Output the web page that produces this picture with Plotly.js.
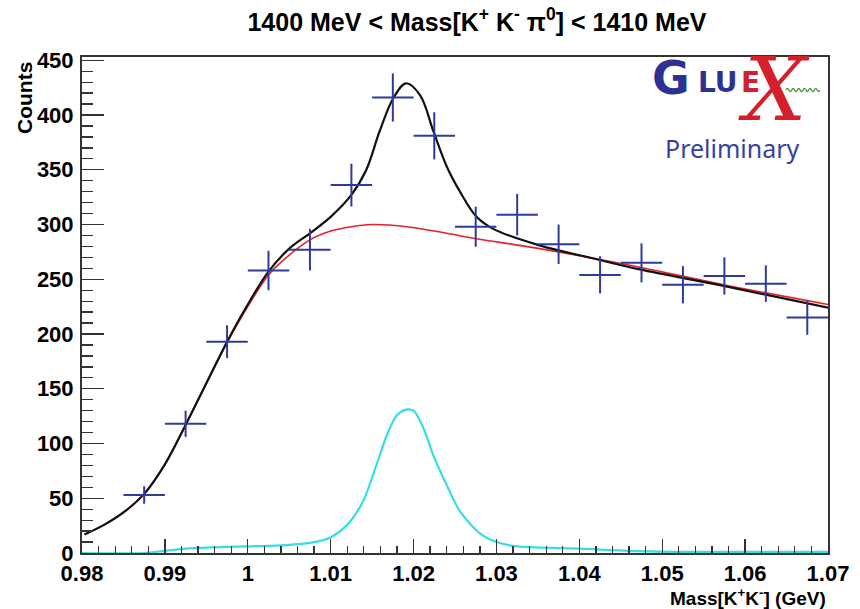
<!DOCTYPE html>
<html>
<head>
<meta charset="utf-8">
<script src="https://cdn.plot.ly/plotly-3.0.1.min.js"></script>
<style>
  html, body { margin: 0; padding: 0; background: #fff; }
  #chart { width: 860px; height: 609px; }
</style>
</head>
<body>
<div id="chart"></div>
<script>
// ---- Data ----
const binCenters = [0.9875, 0.9925, 0.9975, 1.0025, 1.0075, 1.0125, 1.0175, 1.0225, 1.0275,
                    1.0325, 1.0375, 1.0425, 1.0475, 1.0525, 1.0575, 1.0625, 1.0675];
const counts     = [53, 118, 193, 258, 277, 336, 416, 381, 298,
                    309, 282, 254, 265, 245, 253, 246, 215];
const countErrs  = [8, 12, 15, 18, 19, 19.5, 22, 21.5, 18.3,
                    19, 18, 17, 17.8, 17, 17, 16.7, 15.7];
const binHalfWidth = 0.0025;

// total fit (black)
const totalX = [0.9803, 0.9825, 0.9850, 0.9875, 0.9900, 0.9925, 0.9950, 0.9975, 1.0000, 1.0025,
                1.0050, 1.0075, 1.0100, 1.0125, 1.0143, 1.0159, 1.0176, 1.0191, 1.0208, 1.0224,
                1.0240, 1.0256, 1.0276, 1.0296, 1.0352, 1.0417, 1.0473, 1.0574, 1.0700];
const totalY = [17, 25, 37, 54, 81, 117, 155, 193, 227, 257,
                278, 292, 307, 327, 350, 385, 416, 429, 418, 385,
                353, 330, 307, 296, 281, 269, 259, 244, 224];

// background (red)
const bkgX = [0.9803, 0.9825, 0.9850, 0.9875, 0.9900, 0.9925, 0.9950, 0.9975, 1.0000, 1.0025,
              1.0050, 1.0075, 1.0100, 1.0125, 1.0150, 1.0192, 1.0240, 1.0276, 1.0352, 1.0473,
              1.0574, 1.0700];
const bkgY = [17, 25, 37, 54, 81, 117, 155, 192, 225, 254,
              272, 286, 294, 298, 300, 298, 292, 287, 278, 261,
              245, 227];

// signal (cyan)
const sigX = [0.9800, 0.9875, 0.9900, 0.9925, 0.9950, 1.0000, 1.0050, 1.0080, 1.0099, 1.0119,
              1.0139, 1.0155, 1.0168, 1.0180, 1.0191, 1.0200, 1.0212, 1.0224, 1.0240, 1.0256,
              1.0280, 1.0300, 1.0325, 1.0352, 1.0400, 1.0460, 1.0540, 1.0700];
const sigY = [0, 0, 2, 4, 5, 6, 7.5, 10, 14, 25,
              47, 80, 108, 126, 131, 130, 114, 89, 62, 38,
              18, 10, 6, 5, 4, 2, 1, 1];

const titleText = '1400 MeV < Mass[K<sup>+</sup> K<sup>-</sup> π<sup>0</sup>] < 1410 MeV';
const xTitleText = 'Mass[K<sup>+</sup>K<sup>-</sup>] (GeV)';
const yTitleText = 'Counts';

// ---- Plot ----
const FONT = 'Liberation Sans, Arial, Helvetica, sans-serif';
const traces = [
  {
    x: sigX, y: sigY, type: 'scatter', mode: 'lines',
    line: {color: '#35dde6', width: 2.2, shape: 'spline', smoothing: 0.8},
    cliponaxis: false, hoverinfo: 'skip'
  },
  {
    x: bkgX, y: bkgY, type: 'scatter', mode: 'lines',
    line: {color: '#e2222c', width: 1.6, shape: 'spline', smoothing: 1},
    hoverinfo: 'skip'
  },
  {
    x: totalX, y: totalY, type: 'scatter', mode: 'lines',
    line: {color: '#111111', width: 2.2, shape: 'spline', smoothing: 1},
    hoverinfo: 'skip'
  },
  {
    x: binCenters, y: counts, type: 'scatter', mode: 'markers',
    marker: {size: 1, color: '#2e3b9c'},
    error_y: {type: 'data', array: countErrs, visible: true, color: '#2e3b9c', thickness: 2, width: 0},
    error_x: {type: 'constant', value: binHalfWidth, visible: true, color: '#2e3b9c', thickness: 2, width: 0}
  }
];

// green wavy line for the logo
function wavePath(x0, x1, yc, amp, n) {
  const px = v => (v - 82) / 746;
  const py = v => (553 - v) / 496;
  let d = 'M ' + px(x0) + ',' + py(yc);
  const step = (x1 - x0) / (2 * n);
  for (let i = 0; i < 2 * n; i++) {
    const xa = x0 + step * (i + 0.5);
    const xb = x0 + step * (i + 1);
    const ya = yc + (i % 2 === 0 ? -amp : amp) * 2;
    d += ' Q ' + px(xa) + ',' + py(ya) + ' ' + px(xb) + ',' + py(yc);
  }
  return d;
}

const layout = {
  width: 860, height: 609,
  margin: {l: 82, r: 32, t: 57, b: 56, pad: 0},
  paper_bgcolor: '#ffffff', plot_bgcolor: '#ffffff',
  showlegend: false,
  title: {
    text: titleText, x: 477 / 860, xanchor: 'center', xref: 'container',
    y: 1 - 22 / 609, yanchor: 'middle', yref: 'container',
    font: {family: FONT, size: 25, color: '#000', weight: 'bold'}
  },
  xaxis: {
    range: [0.98, 1.07], dtick: 0.01, tick0: 0.98,
    showgrid: false, zeroline: false,
    showline: true, linecolor: '#333', linewidth: 2, mirror: true,
    ticks: 'inside', ticklen: 14, tickwidth: 1.3, tickcolor: '#333',
    minor: {dtick: 0.002, ticks: 'inside', ticklen: 7, tickwidth: 1.3, tickcolor: '#333', showgrid: false},
    tickfont: {family: FONT, size: 22, color: '#000', weight: 'bold'},
    ticklabelstandoff: 0
  },
  yaxis: {
    range: [0, 453], dtick: 50, tick0: 0,
    showgrid: false, zeroline: false,
    showline: true, linecolor: '#333', linewidth: 2, mirror: true,
    ticks: 'inside', ticklen: 22, tickwidth: 1.3, tickcolor: '#333',
    minor: {dtick: 10, ticks: 'inside', ticklen: 11, tickwidth: 1.3, tickcolor: '#333', showgrid: false},
    tickfont: {family: FONT, size: 22, color: '#000', weight: 'bold'},
    ticklabelstandoff: 2
  },
  annotations: [
    {text: yTitleText, xref: 'paper', yref: 'paper', x: (24 - 82) / 746, y: (553 - 60) / 496,
     xanchor: 'center', yanchor: 'top', textangle: -90, showarrow: false,
     font: {family: FONT, size: 21, color: '#000', weight: 'bold'}},
    {text: xTitleText, xref: 'paper', yref: 'paper', x: 1.0, y: (553 - 597) / 496,
     xanchor: 'right', yanchor: 'middle', showarrow: false,
     font: {family: FONT, size: 19, color: '#000', weight: 'bold'}},
    // GlueX logo
    {text: 'G', xref: 'paper', yref: 'paper', x: (671 - 82) / 746, y: (553 - 78) / 496,
     xanchor: 'center', yanchor: 'middle', showarrow: false,
     font: {family: 'DejaVu Sans, Liberation Sans', size: 46, color: '#2e3192', weight: 'bold'}},
    {text: 'LU', xref: 'paper', yref: 'paper', x: (696 - 82) / 746, y: (553 - 82) / 496,
     xanchor: 'left', yanchor: 'middle', showarrow: false,
     font: {family: 'DejaVu Sans, Liberation Sans', size: 28, color: '#2e3192', weight: 'bold'}},
    {text: 'E', xref: 'paper', yref: 'paper', x: (739 - 82) / 746, y: (553 - 82) / 496,
     xanchor: 'left', yanchor: 'middle', showarrow: false,
     font: {family: 'DejaVu Sans, Liberation Sans', size: 28, color: '#d3202a', weight: 'bold'}},
    {text: 'X', xref: 'paper', yref: 'paper', x: (774 - 82) / 746, y: (553 - 89) / 496,
     xanchor: 'center', yanchor: 'middle', showarrow: false,
     font: {family: 'DejaVu Serif, Liberation Serif', size: 88, color: '#d3202a', style: 'italic'}},
    {text: 'Preliminary', xref: 'paper', yref: 'paper', x: (732 - 82) / 746, y: (553 - 148) / 496,
     xanchor: 'center', yanchor: 'middle', showarrow: false,
     font: {family: 'Noto Sans, Open Sans', size: 25, color: '#3a3f9e'}}
  ],
  shapes: [
    {type: 'path', xref: 'paper', yref: 'paper', path: wavePath(786, 820, 90, 1.5, 6),
     line: {color: '#4a9a3a', width: 1.3}}
  ]
};

Plotly.newPlot('chart', traces, layout, {displayModeBar: false, staticPlot: true});
</script>
</body>
</html>
